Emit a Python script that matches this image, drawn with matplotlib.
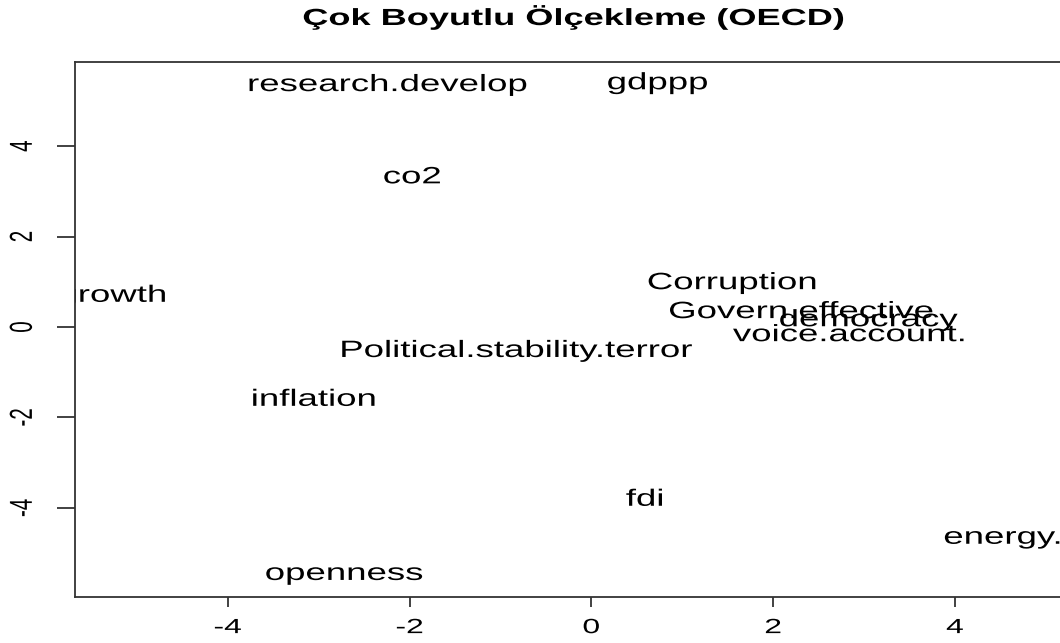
import matplotlib
matplotlib.use("Agg")
import matplotlib.pyplot as plt
from matplotlib.patheffects import AbstractPathEffect
from matplotlib.transforms import Affine2D

plt.rcParams['font.family'] = ['Liberation Sans', 'DejaVu Sans']
plt.rcParams['axes.unicode_minus'] = False

# MDS coordinates
labels = ['research.develop', 'gdppp', 'co2', 'growth', 'Corruption',
          'Govern.effective', 'democracy', 'voice.account.',
          'Political.stability.terror', 'inflation', 'fdi',
          'energy.consumption', 'openness']
dim1 = [-2.24, 0.73, -1.97, -5.27, 1.55, 2.31, 3.05, 2.84, -0.82, -3.05, 0.59, 5.67, -2.72]
dim2 = [5.35, 5.39, 3.31, 0.69, 0.97, 0.33, 0.15, -0.18, -0.53, -1.61, -3.82, -4.66, -5.46]
xticks = [-4, -2, 0, 2, 4]
yticks = [-4, -2, 0, 2, 4]
title = 'Çok Boyutlu Ölçekleme (OECD)'


class Stretch(AbstractPathEffect):
    # the original png was stretched sideways, glyphs included
    def __init__(self, sx=1.55):
        super().__init__()
        self.sx = sx

    def draw_path(self, renderer, gc, tpath, affine, rgbFace=None):
        bb = tpath.get_extents(affine)
        cx = (bb.x0 + bb.x1) / 2
        aff = affine + Affine2D().translate(-cx, 0).scale(self.sx, 1).translate(cx, 0)
        renderer.draw_path(gc, tpath, aff, rgbFace)


st = [Stretch()]
W, H = 1060, 643
fig = plt.figure(figsize=(W / 100, H / 100), dpi=100)

xlo, xhi = -5.68, 6.06
ylo, yhi = -5.97, 5.86
ax = fig.add_axes([75 / W, (H - 597) / H, (xhi - xlo) * 90.9 / W, 535 / H])
ax.set_xlim(xlo, xhi)
ax.set_ylim(ylo, yhi)

for x, y, lab in zip(dim1, dim2, labels):
    ax.text(x, y, lab, ha='center', va='center', fontsize=17,
            clip_on=True, path_effects=st)

ax.set_xticks(xticks, [str(t) for t in xticks])
ax.set_yticks(yticks, [str(t) for t in yticks], rotation=90, va='center')
ax.tick_params(axis='x', length=7.2, width=1.3, pad=8, labelsize=14.8, color='#333333')
ax.tick_params(axis='y', length=13, width=1.3, pad=18, labelsize=14.8, color='#333333')
for lab in ax.get_xticklabels() + ax.get_yticklabels():
    lab.set_path_effects(st)
for s in ax.spines.values():
    s.set_linewidth(1.3)
    s.set_color('#333333')

fig.text(574 / W, 1 - 17 / H, title, ha='center', va='center', fontsize=16.8,
         fontweight='bold', path_effects=st)

fig.savefig('out.png', dpi=100)
